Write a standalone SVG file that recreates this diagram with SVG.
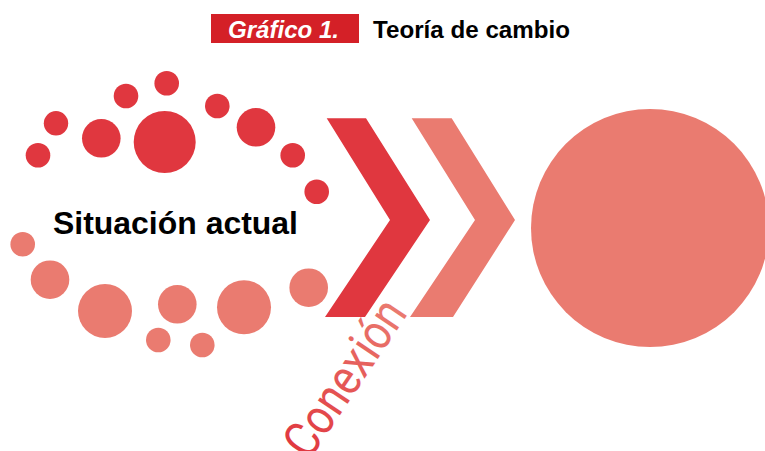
<svg xmlns="http://www.w3.org/2000/svg" width="765" height="451" viewBox="0 0 765 451">
<style>
.r{fill:#E0373F}
.p{fill:#EA7B70}
.t{font-family:"Liberation Sans",Arial,sans-serif;font-weight:bold}
</style>
<defs>
<linearGradient id="g" x1="0" y1="0" x2="1" y2="0">
<stop offset="0" stop-color="#E0373F"/>
<stop offset="1" stop-color="#EA7B70"/>
</linearGradient>
</defs>
<rect width="765" height="451" fill="#fff"/>
<g id="title">
<rect x="211" y="14" width="148" height="29" fill="#D42027"/>
<text class="t" x="228" y="37.5" font-size="24" font-style="italic" fill="#fff" textLength="111" lengthAdjust="spacingAndGlyphs">Gráfico 1.</text>
<text class="t" x="373" y="37.5" font-size="24" fill="#000" textLength="197" lengthAdjust="spacingAndGlyphs">Teoría de cambio</text>
</g>
<g id="situacion">
<circle class="r" cx="38" cy="155.3" r="12.3"/>
<circle class="r" cx="56" cy="123.3" r="12.2"/>
<circle class="r" cx="101.3" cy="138.3" r="19.3"/>
<circle class="r" cx="126" cy="96" r="12.3"/>
<circle class="r" cx="166.7" cy="83.3" r="12.3"/>
<circle class="r" cx="164.7" cy="142" r="31"/>
<circle class="r" cx="217.3" cy="106" r="12.3"/>
<circle class="r" cx="256" cy="127.3" r="19.3"/>
<circle class="r" cx="292.7" cy="155.3" r="12.3"/>
<circle class="r" cx="316.7" cy="191.7" r="12.3"/>
<circle class="p" cx="22.7" cy="244.3" r="12.3"/>
<circle class="p" cx="50" cy="279.7" r="19.3"/>
<circle class="p" cx="105" cy="311" r="27"/>
<circle class="p" cx="177.3" cy="304.3" r="19.3"/>
<circle class="p" cx="158.3" cy="340" r="12.3"/>
<circle class="p" cx="202.3" cy="345" r="12.3"/>
<circle class="p" cx="244" cy="307.3" r="27"/>
<circle class="p" cx="308.7" cy="287.7" r="19.3"/>
<text class="t" x="53" y="234" font-size="31" fill="#000" textLength="245" lengthAdjust="spacingAndGlyphs">Situación actual</text>
</g>
<g id="conexion">
<polygon class="r" points="326.7,118.3 366,118.3 430,220 365,317 325,317 390,220"/>
<polygon class="p" points="411.7,118.3 451.7,118.3 515,220 453,317 410,317 475,220"/>
<text x="0" y="0" transform="translate(309,461) rotate(-56)" font-family="Roboto,'Liberation Sans',sans-serif" font-weight="400" font-size="50" fill="url(#g)" textLength="178" lengthAdjust="spacingAndGlyphs">Conexión</text>
</g>
<g id="resultado">
<circle class="p" cx="650" cy="228" r="119"/>
</g>
</svg>
